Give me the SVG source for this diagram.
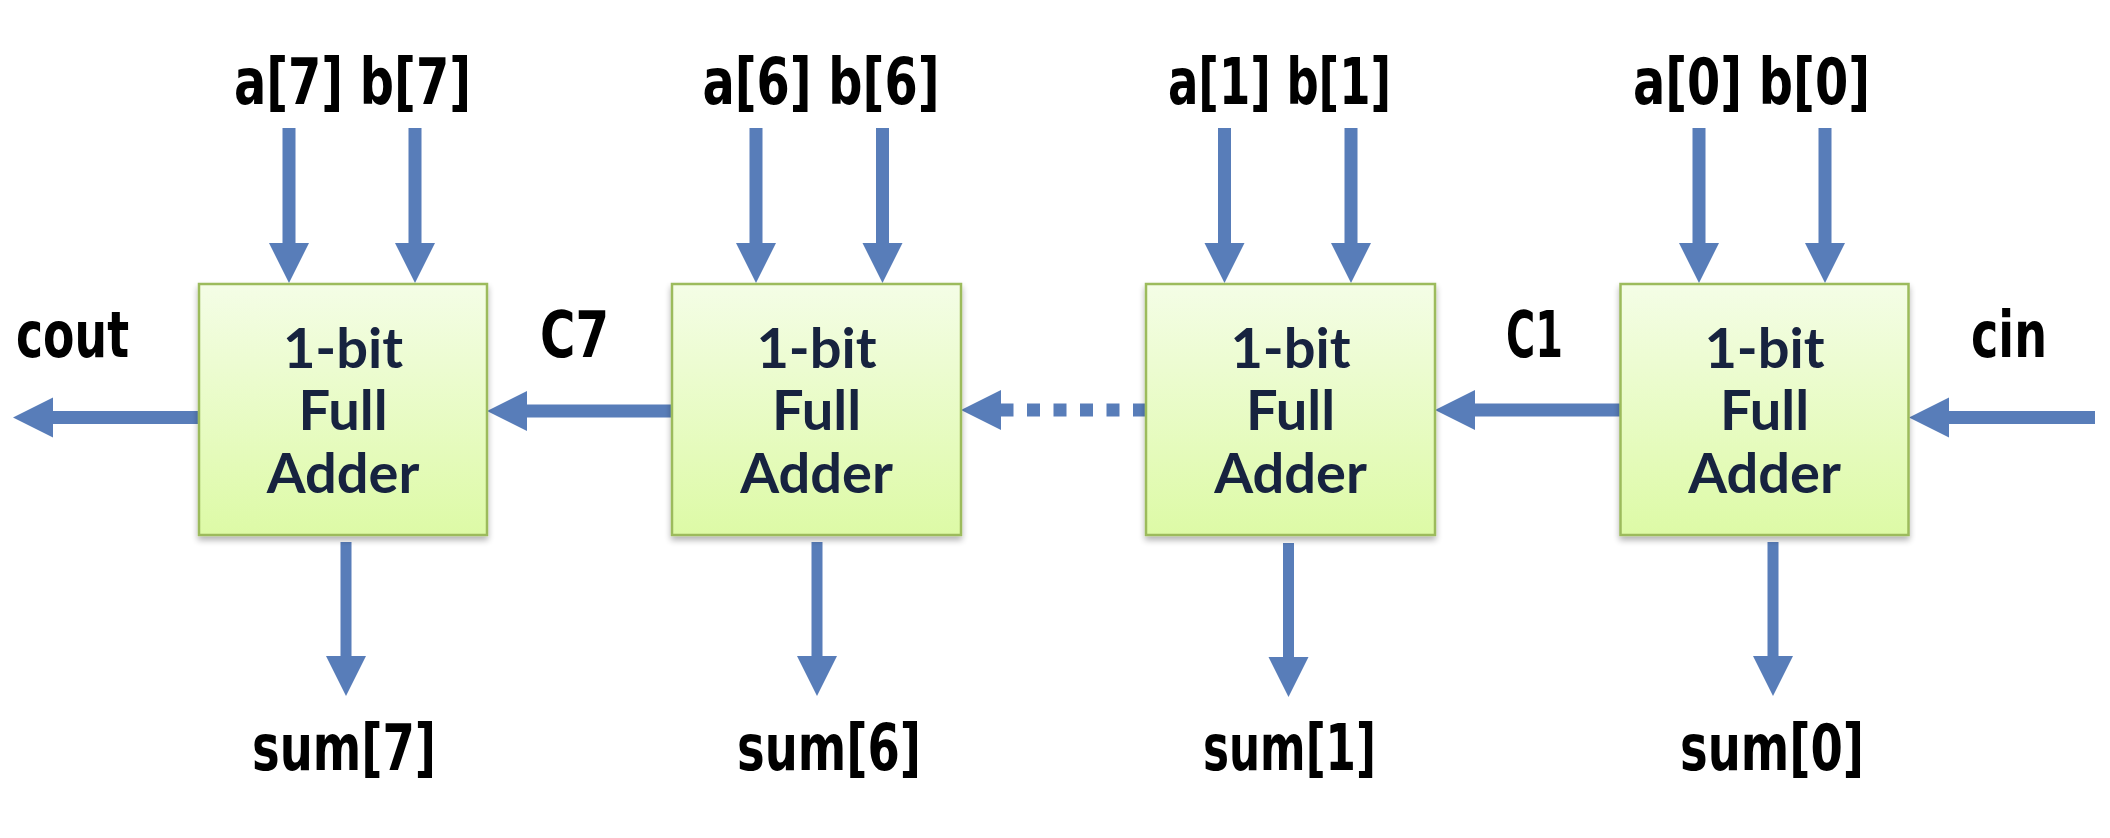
<svg xmlns="http://www.w3.org/2000/svg" width="2110" height="838" viewBox="0 0 2110 838">
<style>
.box{fill:url(#g);stroke:#9cbb5b;stroke-width:2.5;filter:url(#sh)}
.bt{font-family:Lato,"Open Sans",sans-serif;font-weight:700;font-size:56px;fill:#17233f;text-anchor:middle}
.lb{font-family:"DejaVu Sans",sans-serif;font-weight:700;font-size:64px;fill:#000;text-anchor:middle}
.ar{stroke:#587db9;stroke-width:13;fill:none;marker-end:url(#ah)}
.ars{stroke:#587db9;stroke-width:11;fill:none;marker-end:url(#ah)}
.dot{stroke-dasharray:13 13.5}
</style>
<defs>
<linearGradient id="g" x1="0" y1="0" x2="0" y2="1">
<stop offset="0" stop-color="#f4fde6"/>
<stop offset="1" stop-color="#ddfaa6"/>
</linearGradient>
<filter id="sh" x="-10%" y="-10%" width="120%" height="125%">
<feGaussianBlur in="SourceAlpha" stdDeviation="3"/>
<feOffset dx="0" dy="4" result="b"/>
<feComponentTransfer><feFuncA type="linear" slope="0.3"/></feComponentTransfer>
<feMerge><feMergeNode/><feMergeNode in="SourceGraphic"/></feMerge>
</filter>
<marker id="ah" markerUnits="userSpaceOnUse" markerWidth="40" markerHeight="40" refX="0" refY="20" orient="auto" overflow="visible">
<path d="M0,0 L40,20 L0,40 Z" fill="#587db9"/>
</marker>
</defs>

<g id="connectors">
<line class="ar" x1="289" y1="128" x2="289" y2="243"/>
<line class="ar" x1="415" y1="128" x2="415" y2="243"/>
<line class="ar" x1="756" y1="128" x2="756" y2="243"/>
<line class="ar" x1="882.5" y1="128" x2="882.5" y2="243"/>
<line class="ar" x1="1224.5" y1="128" x2="1224.5" y2="243"/>
<line class="ar" x1="1351" y1="128" x2="1351" y2="243"/>
<line class="ar" x1="1699" y1="128" x2="1699" y2="243"/>
<line class="ar" x1="1825" y1="128" x2="1825" y2="243"/>
<line class="ar" x1="199" y1="417.5" x2="53" y2="417.5"/>
<line class="ar" x1="672" y1="411" x2="527" y2="411"/>
<line class="ar dot" x1="1146" y1="410" x2="1001" y2="410"/>
<line class="ar" x1="1620" y1="410" x2="1475" y2="410"/>
<line class="ar" x1="2095" y1="417.5" x2="1949" y2="417.5"/>
<line class="ars" x1="346" y1="542" x2="346" y2="656"/>
<line class="ars" x1="817" y1="542" x2="817" y2="656"/>
<line class="ars" x1="1288.5" y1="543" x2="1288.5" y2="657"/>
<line class="ars" x1="1773" y1="542" x2="1773" y2="656"/>
</g>

<g id="fa7">
<rect class="box" x="199" y="284" width="288" height="251"/>
<text class="bt" x="343" y="368">1-bit</text>
<text class="bt" x="343" y="430">Full</text>
<text class="bt" x="343" y="493">Adder</text>
</g>
<g id="fa6">
<rect class="box" x="672" y="284" width="289" height="251"/>
<text class="bt" x="816.5" y="368">1-bit</text>
<text class="bt" x="816.5" y="430">Full</text>
<text class="bt" x="816.5" y="493">Adder</text>
</g>
<g id="fa1">
<rect class="box" x="1146" y="284" width="289" height="251"/>
<text class="bt" x="1290.5" y="368">1-bit</text>
<text class="bt" x="1290.5" y="430">Full</text>
<text class="bt" x="1290.5" y="493">Adder</text>
</g>
<g id="fa0">
<rect class="box" x="1620.5" y="284" width="288" height="251"/>
<text class="bt" x="1764.5" y="368">1-bit</text>
<text class="bt" x="1764.5" y="430">Full</text>
<text class="bt" x="1764.5" y="493">Adder</text>
</g>

<g id="labels">
<text class="lb" x="352.5" y="104" textLength="237" lengthAdjust="spacingAndGlyphs">a[7] b[7]</text>
<text class="lb" x="821" y="104" textLength="237" lengthAdjust="spacingAndGlyphs">a[6] b[6]</text>
<text class="lb" x="1279.5" y="104" textLength="223" lengthAdjust="spacingAndGlyphs">a[1] b[1]</text>
<text class="lb" x="1751.5" y="104" textLength="237" lengthAdjust="spacingAndGlyphs">a[0] b[0]</text>
<text class="lb" x="72.5" y="357" textLength="113" lengthAdjust="spacingAndGlyphs">cout</text>
<text class="lb" x="574.5" y="357" textLength="69" lengthAdjust="spacingAndGlyphs">C7</text>
<text class="lb" x="1534.5" y="357" textLength="57" lengthAdjust="spacingAndGlyphs">C1</text>
<text class="lb" x="2009" y="357" textLength="76" lengthAdjust="spacingAndGlyphs">cin</text>
<text class="lb" x="344" y="770" textLength="184" lengthAdjust="spacingAndGlyphs">sum[7]</text>
<text class="lb" x="829" y="770" textLength="184" lengthAdjust="spacingAndGlyphs">sum[6]</text>
<text class="lb" x="1289.5" y="770" textLength="173" lengthAdjust="spacingAndGlyphs">sum[1]</text>
<text class="lb" x="1772" y="770" textLength="184" lengthAdjust="spacingAndGlyphs">sum[0]</text>
</g>
</svg>
